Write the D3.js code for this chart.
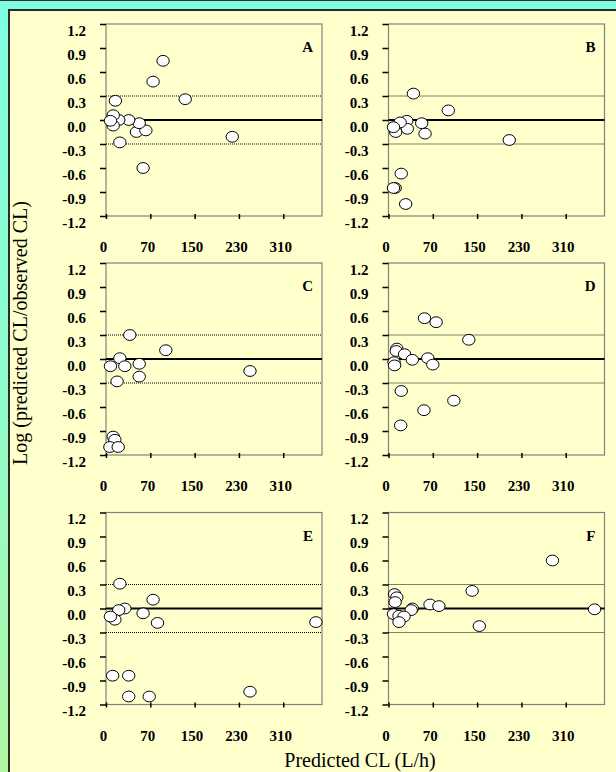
<!DOCTYPE html>
<html>
<head>
<meta charset="utf-8">
<script src="https://cdn.jsdelivr.net/npm/d3@7"></script>
<style>
  body { margin: 0; }
  .tick text {
    font-family: "Liberation Serif", "Times New Roman", serif;
    font-weight: bold;
    font-size: 15px;
    fill: #000;
  }
</style>
</head>
<body>
<div id="chart"></div>
<script>
var svgWidth = 616;
var svgHeight = 772;

// tick labels as printed on the figure
var yTicks = [1.2, 0.9, 0.6, 0.3, 0.0, -0.3, -0.6, -0.9, -1.2];
var xTicks = [0, 80, 160, 240, 320];
var xTickLabels = ["0", "70", "150", "230", "310"];

// panel letters
var panelNames = ["A", "B", "C", "D", "E", "F"];

// predicted CL (x) and log(predicted/observed) (y), one pair of arrays per panel
var aX = [103, 85, 143, 17, 228, 67, 25, 55, 72, 60, 41, 23, 13, 13, 8];
var aY = [0.74, 0.48, 0.26, 0.24, -0.21, -0.60, -0.28, -0.15, -0.13, -0.04, 0.0, 0.0, 0.06, -0.07, -0.01];

var bX = [45, 108, 218, 60, 66, 33, 34, 21, 13, 9, 23, 12, 9, 31];
var bY = [0.33, 0.12, -0.25, -0.04, -0.17, -0.01, -0.11, -0.03, -0.15, -0.09, -0.67, -0.85, -0.85, -1.05];

var cX = [43, 108, 260, 25, 34, 60, 60, 8, 20, 13, 16, 7, 22];
var cY = [0.30, 0.11, -0.15, 0.01, -0.09, -0.06, -0.22, -0.09, -0.28, -0.97, -1.01, -1.10, -1.10];

var dX = [65, 86, 145, 15, 14, 29, 43, 71, 80, 10, 11, 23, 118, 64, 22];
var dY = [0.51, 0.46, 0.24, 0.13, 0.10, 0.06, -0.01, 0.01, -0.07, -0.04, -0.08, -0.40, -0.52, -0.64, -0.83];

var eX = [25, 85, 93, 67, 34, 23, 16, 8, 12, 41, 41, 78, 260, 379];
var eY = [0.31, 0.11, -0.18, -0.06, 0.0, -0.02, -0.14, -0.10, -0.84, -0.84, -1.10, -1.10, -1.04, -0.17];

var fX = [296, 151, 164, 372, 75, 91, 43, 41, 11, 15, 12, 9, 19, 28, 19];
var fY = [0.60, 0.22, -0.22, -0.01, 0.05, 0.03, 0.0, -0.02, 0.18, 0.14, 0.08, -0.07, -0.09, -0.10, -0.17];

var panelX = [aX, bX, cX, dX, eX, fX];
var panelY = [aY, bY, cY, dY, eY, fY];

// layout of the 3 x 2 grid
var colLeft = [106, 388.5];
var rowTop = [24, 263, 512.5];
var plotWidth = 216;
var plotHeight = 192;

var serif = '"Liberation Serif", "Times New Roman", serif';

var svg = d3
  .select("#chart")
  .append("svg")
  .attr("width", svgWidth)
  .attr("height", svgHeight);

// background gradient
var grad = svg
  .append("defs")
  .append("linearGradient")
  .attr("id", "bg")
  .attr("x1", 0)
  .attr("y1", 0)
  .attr("x2", 0)
  .attr("y2", 1);
grad.append("stop").attr("offset", "0%").attr("stop-color", "#7fffe0");
grad.append("stop").attr("offset", "50%").attr("stop-color", "#8ffccc");
grad.append("stop").attr("offset", "100%").attr("stop-color", "#b2f7a2");

svg
  .append("rect")
  .attr("width", svgWidth)
  .attr("height", svgHeight)
  .attr("fill", "url(#bg)");

svg
  .append("line")
  .attr("x1", 0)
  .attr("x2", svgWidth)
  .attr("y1", 0.5)
  .attr("y2", 0.5)
  .attr("stroke", "#333");

// pale yellow card
svg
  .append("rect")
  .attr("x", 9)
  .attr("y", 10)
  .attr("width", svgWidth + 20)
  .attr("height", svgHeight + 20)
  .attr("fill", "#ffffcc")
  .attr("stroke", "#2a2a2a")
  .attr("stroke-width", 2);

// shared scales
var xScale = d3.scaleLinear().domain([0, 390]).range([0, plotWidth]);
var yScale = d3.scaleLinear().domain([-1.2, 1.2]).range([plotHeight, 0]);

panelNames.forEach(function (name, i) {
  var col = i % 2;
  var row = Math.floor(i / 2);

  var g = svg
    .append("g")
    .attr("transform", `translate(${colLeft[col]}, ${rowTop[row]})`);

  // plot area frame
  g.append("rect")
    .attr("width", plotWidth)
    .attr("height", plotHeight)
    .attr("fill", "none")
    .attr("stroke", "#808080")
    .attr("stroke-width", 1.2);

  // +/- 0.3 dotted limits
  g.selectAll(".limit")
    .data([0.3, -0.3])
    .enter()
    .append("line")
    .attr("class", "limit")
    .attr("x1", 0)
    .attr("x2", plotWidth)
    .attr("y1", (d) => yScale(d))
    .attr("y2", (d) => yScale(d))
    .attr("stroke", "#000")
    .attr("stroke-width", 1)
    .attr("stroke-dasharray", "1,1");

  // zero line
  g.append("line")
    .attr("x1", 0)
    .attr("x2", plotWidth)
    .attr("y1", yScale(0))
    .attr("y2", yScale(0))
    .attr("stroke", "#000")
    .attr("stroke-width", 2);

  // y axis
  var yAxis = g
    .append("g")
    .call(
      d3
        .axisLeft(yScale)
        .tickValues(yTicks)
        .tickSize(6)
        .tickFormat((d) => d.toFixed(1))
    );
  yAxis.select(".domain").remove();
  yAxis.selectAll(".tick line").attr("stroke-width", 1.5);
  yAxis.selectAll(".tick text").attr("x", -20).attr("dy", 11);

  // x axis
  var xAxis = g
    .append("g")
    .attr("transform", `translate(0, ${plotHeight})`)
    .call(
      d3
        .axisBottom(xScale)
        .tickValues(xTicks)
        .tickSize(3)
        .tickFormat((d, k) => xTickLabels[k])
    );
  xAxis.select(".domain").remove();
  xAxis.selectAll(".tick line").attr("y1", -2).attr("stroke-width", 1.5);
  xAxis.selectAll(".tick text").attr("y", 36).attr("dy", 0).attr("dx", -3);

  // panel letter
  g.append("text")
    .attr("x", plotWidth - 9)
    .attr("y", 28)
    .attr("text-anchor", "end")
    .style("font-family", serif)
    .style("font-weight", "bold")
    .style("font-size", "15px")
    .text(name);

  // points
  var pts = panelX[i].map((x, k) => ({ x: x, y: panelY[i][k] }));
  g.selectAll("ellipse")
    .data(pts)
    .enter()
    .append("ellipse")
    .attr("cx", (d) => xScale(d.x))
    .attr("cy", (d) => yScale(d.y))
    .attr("rx", 6.2)
    .attr("ry", 5.4)
    .attr("fill", "#fff")
    .attr("stroke", "#000")
    .attr("stroke-width", 1);
});

// axis titles
svg
  .append("text")
  .attr("transform", "translate(27, 333) rotate(-90)")
  .attr("text-anchor", "middle")
  .style("font-family", serif)
  .style("font-size", "20px")
  .text("Log (predicted CL/observed CL)");

svg
  .append("text")
  .attr("x", 360)
  .attr("y", 767)
  .attr("text-anchor", "middle")
  .style("font-family", serif)
  .style("font-size", "20px")
  .text("Predicted CL (L/h)");
</script>
</body>
</html>
